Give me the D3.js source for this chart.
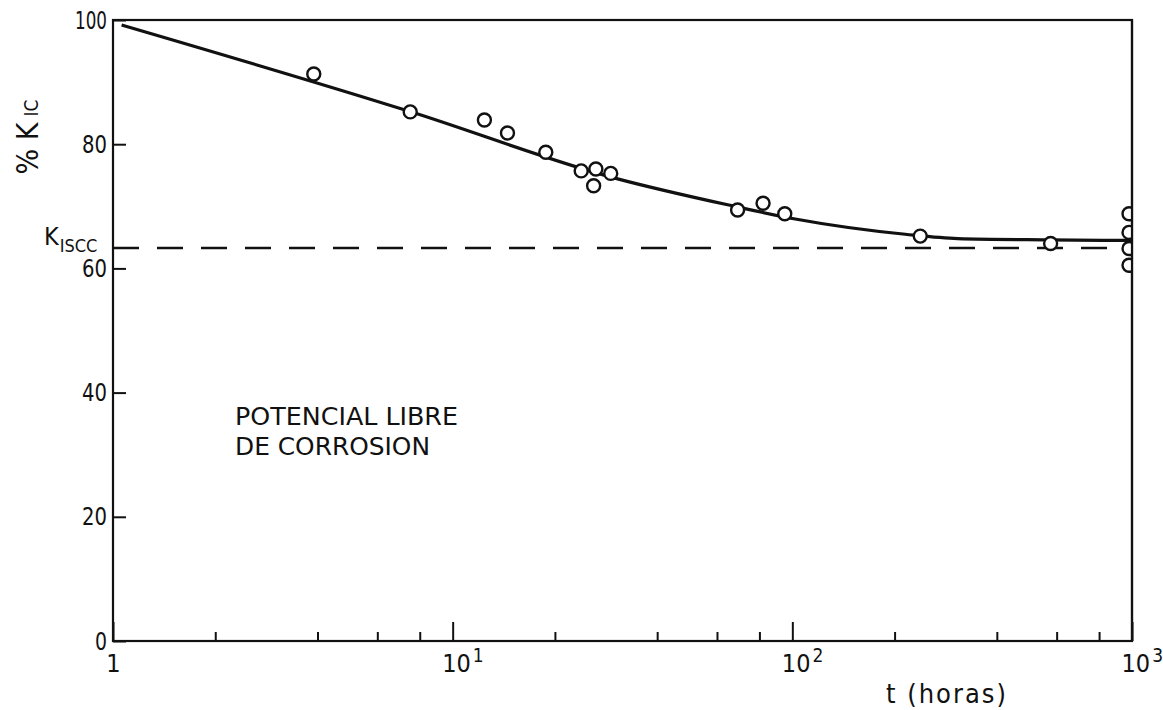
<!DOCTYPE html>
<html><head><meta charset="utf-8">
<script src="https://cdn.jsdelivr.net/npm/d3@7"></script>
<style>
body{margin:0;background:#fff}
text{font-family:"Liberation Sans Narrow","DejaVu Sans Condensed","Arial Narrow",sans-serif;fill:#111}
</style>
</head><body><svg id="c" width="1163" height="710"></svg>
<script>
// measured data points (t in hours, % K_IC)
const pointsT = [3.9, 7.5, 12.4, 14.5, 18.8, 23.9, 26.4, 26.0, 29.2, 69, 82, 95, 238, 576, 980, 980, 980, 980];
const pointsV = [91.3, 85.2, 83.9, 81.8, 78.7, 75.7, 76.0, 73.3, 75.3, 69.4, 70.5, 68.8, 65.2, 64.0, 68.8, 65.8, 63.2, 60.5];
// fitted curve
const curveT = [1.06, 7.45, 30.2, 65, 101, 215, 307, 564, 1000];
const curveV = [99.2, 85.3, 74.5, 70.2, 68.0, 65.5, 64.8, 64.6, 64.5];
const kIscc = 63.3;
const yTicks = [0, 20, 40, 60, 80, 100];
const xMajor = [1, 10, 100, 1000];
const xMinor = [2, 4, 6, 8, 20, 40, 60, 80, 200, 400, 600, 800];

const svg = d3.select('#c');
const x = d3.scaleLog().domain([1, 1000]).range([113, 1132]);
const y = d3.scaleLinear().domain([0, 100]).range([641, 20]);

svg.append('defs').append('clipPath').attr('id', 'plot')
  .append('rect').attr('x', x(1)).attr('y', y(100))
  .attr('width', x(1000) - x(1)).attr('height', y(0) - y(100));

// y axis
const gy = svg.append('g').attr('transform', `translate(${x(1)},0)`)
  .call(d3.axisLeft(y).tickValues(yTicks).tickSizeInner(-13).tickSizeOuter(0).tickPadding(6));
gy.select('.domain').remove();
gy.selectAll('.tick line').attr('stroke', '#111').attr('stroke-width', 2);
gy.selectAll('.tick text').attr('font-size', 25).attr('fill', '#111')
  .attr('textLength', d => { const n = String(d).length; return n === 3 ? 32 : n === 2 ? 25 : 12; })
  .attr('lengthAdjust', 'spacingAndGlyphs');

// x axis major
const gx = svg.append('g').attr('transform', `translate(0,${y(0)})`)
  .call(d3.axisBottom(x).tickValues(xMajor).tickSizeInner(-19).tickSizeOuter(0).tickPadding(10).tickFormat(() => ''));
gx.select('.domain').remove();
gx.selectAll('.tick line').attr('stroke', '#111').attr('stroke-width', 2);
gx.selectAll('.tick text').attr('font-size', 25).attr('fill', '#111')
  .attr('dy', 21)
  .each(function (d) {
    const t = d3.select(this);
    if (d === 1) { t.text('1'); return; }
    t.attr('text-anchor', 'start').attr('x', -11);
    t.append('tspan').text('10');
    t.append('tspan').attr('font-size', 19).attr('dy', -10).attr('dx', 2).text(String(Math.round(Math.log10(d))));
  });

// x axis minor
const gm = svg.append('g').attr('transform', `translate(0,${y(0)})`)
  .call(d3.axisBottom(x).tickValues(xMinor).tickSizeInner(-9).tickSizeOuter(0).tickFormat(() => ''));
gm.select('.domain').remove();
gm.selectAll('.tick line').attr('stroke', '#111').attr('stroke-width', 2);

// frame
svg.append('rect').attr('x', x(1)).attr('y', y(100))
  .attr('width', x(1000) - x(1)).attr('height', y(0) - y(100))
  .attr('fill', 'none').attr('stroke', '#111').attr('stroke-width', 2.2);

// K_ISCC dashed line
svg.append('line').attr('x1', x(1)).attr('x2', x(1000))
  .attr('y1', y(kIscc)).attr('y2', y(kIscc))
  .attr('stroke', '#111').attr('stroke-width', 2.5).attr('stroke-dasharray', '26,18');

// curve
const curveData = curveT.map((t, i) => ({ t, v: curveV[i] }));
svg.append('path').datum(curveData)
  .attr('d', d3.line().x(d => x(d.t)).y(d => y(d.v)).curve(d3.curveMonotoneX))
  .attr('fill', 'none').attr('stroke', '#111').attr('stroke-width', 3.2);

// points
const pts = pointsT.map((t, i) => ({ t, v: pointsV[i] }));
svg.append('g').attr('clip-path', 'url(#plot)').selectAll('circle').data(pts).join('circle')
  .attr('cx', d => x(d.t)).attr('cy', d => y(d.v)).attr('r', 6.5)
  .attr('fill', '#fff').attr('stroke', '#111').attr('stroke-width', 2.4);

// redraw right frame edge over clipped points
svg.append('line').attr('x1', x(1000)).attr('x2', x(1000)).attr('y1', y(100)).attr('y2', y(0))
  .attr('stroke', '#111').attr('stroke-width', 2.2);

// y axis title
const yt = svg.append('text').attr('transform', 'translate(38,137) rotate(-90)')
  .attr('text-anchor', 'middle').attr('font-size', 30);
yt.append('tspan').text('% K');
yt.append('tspan').attr('font-size', 19).attr('dx', 6).text('IC');

// K_ISCC label
const kl = svg.append('text').attr('x', 44).attr('y', 245).attr('font-size', 25);
kl.append('tspan').text('K');
kl.append('tspan').attr('font-size', 18).attr('dy', 7).attr('dx', 1).text('ISCC');

// x axis title
svg.append('text').attr('x', 947).attr('y', 703).attr('text-anchor', 'middle')
  .attr('font-size', 27).attr('letter-spacing', 2).text('t (horas)');

// annotation
svg.append('text').attr('x', 235).attr('y', 425).attr('font-size', 25)
  .attr('textLength', 223).attr('lengthAdjust', 'spacingAndGlyphs').text('POTENCIAL LIBRE');
svg.append('text').attr('x', 235).attr('y', 455).attr('font-size', 25)
  .attr('textLength', 195).attr('lengthAdjust', 'spacingAndGlyphs').text('DE CORROSION');
</script>
</body></html>
